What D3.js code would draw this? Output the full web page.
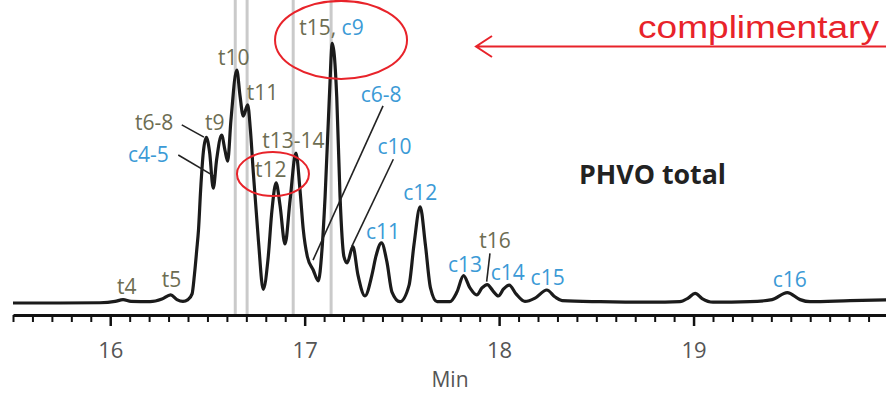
<!DOCTYPE html>
<html>
<head>
<meta charset="utf-8">
<script src="https://cdn.jsdelivr.net/npm/d3@7"></script>
<style>
  body { margin: 0; background: #fff; }
  svg text { font-family: 'Open Sans', sans-serif; }
</style>
</head>
<body>
<svg id="chroma"></svg>
<script>
// ---------- trace: retention time (min) and detector signal (arb.) ----------
var retentionTime = [
  15.500, 15.742, 15.947, 16.025, 16.066, 16.107, 16.205, 16.266, 16.311, 16.343,
  16.374, 16.400, 16.421, 16.433, 16.445, 16.454, 16.465, 16.479, 16.494, 16.511,
  16.530, 16.547, 16.573, 16.590, 16.604, 16.621, 16.651, 16.667, 16.684, 16.707,
  16.721, 16.736, 16.762, 16.787, 16.811, 16.832, 16.853, 16.873, 16.899, 16.925,
  16.955, 16.976, 16.993, 17.014, 17.044, 17.070, 17.089, 17.105, 17.127, 17.142,
  17.165, 17.182, 17.202, 17.218, 17.248, 17.274, 17.310, 17.346, 17.367, 17.395,
  17.423, 17.449, 17.490, 17.537, 17.562, 17.594, 17.621, 17.647, 17.681, 17.747,
  17.783, 17.817, 17.850, 17.885, 17.912, 17.939, 17.969, 17.996, 18.023, 18.052,
  18.087, 18.133, 18.185, 18.245, 18.288, 18.324, 18.519, 18.776, 18.930, 18.972,
  19.008, 19.044, 19.100, 19.290, 19.404, 19.482, 19.548, 19.599, 19.805, 20.000
];
var signal = [
  0.0, 0.0, 0.1, 0.6, 1.3, 0.6, 0.5, 1.5, 3.1, 1.3,
  0.6, 1.3, 3.5, 10.8, 20.4, 28.1, 43.5, 58.1, 63.7, 58.1,
  44.2, 55.0, 64.6, 58.8, 54.6, 70.4, 89.6, 80.0, 71.9, 76.2,
  66.5, 50.0, 24.2, 5.2, 16.5, 35.8, 46.2, 37.7, 22.7, 39.6,
  57.7, 43.5, 28.1, 17.8, 12.7, 8.5, 20.4, 40.8, 79.2, 99.9,
  79.2, 40.8, 17.8, 15.4, 21.7, 10.8, 2.7, 10.8, 18.1, 23.1,
  15.8, 4.2, 0.5, 6.9, 22.3, 37.0, 22.3, 5.8, 0.5, 0.5,
  4.2, 10.5, 5.8, 3.1, 5.8, 7.1, 4.6, 2.7, 5.4, 6.9,
  3.5, 0.6, 1.9, 5.0, 2.3, 0.9, 0.5, 0.3, 0.5, 1.9,
  3.7, 1.7, 0.3, 0.5, 1.3, 4.0, 1.3, 0.5, 0.9, 1.2
];

// ---------- peak labels: text, anchor time, anchor signal, family (t = trans, c = cis) ----------
var labelText   = ['t4', 't5', 'c4-5', 't6-8', 't9', 't10', 't11', 't12', 't13-14',
                   'c6-8', 'c10', 'c11', 'c12', 'c13', 't16', 'c14', 'c15', 'c16'];
var labelTime   = [16.035, 16.265, 16.091, 16.127, 16.487, 16.554, 16.702, 16.745, 16.782,
                   17.288, 17.374, 17.315, 17.507, 17.737, 17.898, 17.957, 18.162, 19.407];
var labelSignal = [3.5, 6.3, 54.3, 66.5, 66.5, 91.5, 78.1, 48.6, 59.5,
                   77.4, 57.3, 24.5, 39.6, 12.0, 21.0, 8.8, 6.9, 6.3];
var labelKind   = ['t', 't', 'c', 't', 't', 't', 't', 't', 't',
                   'c', 'c', 'c', 'c', 'c', 't', 'c', 'c', 'c'];

// leader lines [t0, s0, t1, s1]
var leaders = [
  [16.368, 68.5, 16.482, 63.8],   // t6-8
  [16.350, 56.9, 16.534, 48.8],   // c4-5
  [17.403, 75.8, 17.043, 16.5],   // c6-8
  [17.456, 55.3, 17.242, 21.7],   // c10
  [17.953, 19.1, 17.936, 8.2]     // t16
];

// grey marker lines (min)
var markerTimes = [16.643, 16.704, 16.941, 17.136];

var majorTicks = [16, 17, 18, 19];

var width = 886,
    height = 393,
    axisY = 315,
    tColor = '#6d6d52',
    cColor = '#3b9ad6',
    red = '#e8232a';

var svg = d3.select('svg#chroma')
    .attr('width', width)
    .attr('height', height);

//---------------------scales----------
var x = d3.scaleLinear().domain([15.5, 20]).range([13, 888]);
var y = d3.scaleLinear().domain([0, 100]).range([303, 43]);

//---------------------grey markers----------
svg.append('g')
  .selectAll('line')
  .data(markerTimes)
  .enter()
  .append('line')
    .attr('x1', d => x(d))
    .attr('x2', d => x(d))
    .attr('y1', 0)
    .attr('y2', axisY)
    .attr('stroke', '#cacaca')
    .attr('stroke-width', 3);

//---------------------axes----------
var minorTicks = d3.range(155, 201).map(d => d / 10).filter(d => majorTicks.indexOf(d) < 0);

svg.append('g')
    .attr('transform', 'translate(0,' + axisY + ')')
    .call(d3.axisBottom(x).tickValues(minorTicks).tickSize(7).tickSizeOuter(0).tickFormat(''))
    .call(g => g.select('.domain').remove())
    .call(g => g.selectAll('.tick line').attr('stroke', '#111').attr('stroke-width', 2));

svg.append('g')
    .attr('transform', 'translate(0,' + axisY + ')')
    .call(d3.axisBottom(x).tickValues(majorTicks).tickSize(11).tickSizeOuter(0).tickPadding(16)
            .tickFormat(d3.format('d')))
    .call(g => g.select('.domain').attr('stroke', '#111').attr('stroke-width', 3))
    .call(g => g.selectAll('.tick line').attr('stroke', '#111').attr('stroke-width', 2.5))
    .call(g => g.selectAll('.tick text')
        .attr('fill', '#555')
        .style('font-family', "'Open Sans', sans-serif")
        .style('font-size', '22px'));

svg.append('text')
    .attr('x', 450)
    .attr('y', 387)
    .attr('text-anchor', 'middle')
    .attr('fill', '#555')
    .style('font-size', '21px')
    .text('Min');

//---------------------trace----------
var line = d3.line()
    .x(d => x(d[0]))
    .y(d => y(d[1]))
    .curve(d3.curveMonotoneX);

svg.append('path')
    .datum(retentionTime.map((t, i) => [t, signal[i]]))
    .attr('d', line)
    .attr('fill', 'none')
    .attr('stroke', '#1b1b1b')
    .attr('stroke-width', 3.2)
    .attr('stroke-linejoin', 'round');

//---------------------leaders + labels----------
svg.append('g')
  .selectAll('line')
  .data(leaders)
  .enter()
  .append('line')
    .attr('x1', d => x(d[0]))
    .attr('y1', d => y(d[1]))
    .attr('x2', d => x(d[2]))
    .attr('y2', d => y(d[3]))
    .attr('stroke', '#222')
    .attr('stroke-width', 1.6);

svg.append('g')
  .selectAll('text')
  .data(labelText)
  .enter()
  .append('text')
    .attr('x', (d, i) => x(labelTime[i]))
    .attr('y', (d, i) => y(labelSignal[i]))
    .attr('fill', (d, i) => labelKind[i] == 't' ? tColor : cColor)
    .style('font-size', '21px')
    .text(d => d);

// mixed label on the big peak
var big = svg.append('text')
    .attr('x', x(16.972))
    .attr('y', y(103.1))
    .style('font-size', '21px');
big.append('tspan').attr('fill', tColor).text('t15,');
big.append('tspan').attr('fill', cColor).text(' c9');

svg.append('text')
    .attr('x', 579)
    .attr('y', 184)
    .attr('fill', '#222')
    .attr('textLength', 147)
    .attr('lengthAdjust', 'spacingAndGlyphs')
    .style('font-size', '26px')
    .style('font-weight', 'bold')
    .text('PHVO total');

//---------------------red annotations----------
svg.append('ellipse')
    .attr('cx', x(17.187)).attr('cy', y(101.2))
    .attr('rx', 66).attr('ry', 39)
    .attr('fill', 'none').attr('stroke', red).attr('stroke-width', 2);

svg.append('ellipse')
    .attr('cx', x(16.837)).attr('cy', y(49.6))
    .attr('rx', 36).attr('ry', 22)
    .attr('fill', 'none').attr('stroke', red).attr('stroke-width', 2);

svg.append('path')
    .attr('d', 'M886,46.5 H476 M492,36 L476,46.5 L492,57')
    .attr('fill', 'none')
    .attr('stroke', red)
    .attr('stroke-width', 2);

svg.append('text')
    .attr('x', 638)
    .attr('y', 38)
    .attr('fill', red)
    .attr('textLength', 241)
    .attr('lengthAdjust', 'spacingAndGlyphs')
    .style('font-family', "'Liberation Sans', Arial, sans-serif")
    .style('font-size', '31px')
    .text('complimentary');
</script>
</body>
</html>
